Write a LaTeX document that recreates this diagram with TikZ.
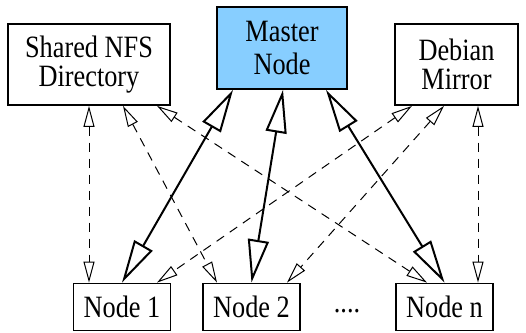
\documentclass[tikz,border=0pt]{standalone}
\usepackage{fontspec}
\usepackage{graphicx}
\setmainfont{Liberation Serif}
\usetikzlibrary{arrows.meta}

\definecolor{masterblue}{HTML}{87CEFF}
\newcommand{\tall}[1]{\scalebox{1}[1.18]{#1}}

\begin{document}
\begin{tikzpicture}[x=1pt,y=-1pt,
        every node/.style={draw,line width=1.8pt,inner sep=0pt,align=center,
            font=\fontsize{26.3}{29}\selectfont},
        topbox/.style={minimum height=81pt},
        nodebox/.style={minimum width=97pt,minimum height=47pt},
        link/.style={line width=2pt,
            {Triangle[open,length=43pt,width=21pt]}-{Triangle[open,length=43pt,width=21pt]}},
        dlink/.style={line width=1pt,dash pattern=on 9pt off 7pt,
            {Triangle[open,length=21pt,width=11pt]}-{Triangle[open,length=21pt,width=11pt]}}]
    \useasboundingbox (0,0) rectangle (526,332);
    % servers on top
    \node[topbox,minimum width=162pt] (nfs) at (89,64.5) {\tall{Shared NFS}\\\tall{Directory}};
    \node[fill=masterblue,minimum width=130pt,minimum height=82pt] (master) at (282,48) {\tall{Master}\\[4pt]\tall{Node}};
    \node[topbox,minimum width=123pt] (mirror) at (456.5,64.5) {\tall{Debian}\\\tall{Mirror}};
    % compute nodes
    \node[nodebox] (n1) at (122,307) {\tall{Node 1}};
    \node[nodebox] (n2) at (251.5,307) {\tall{Node 2}};
    \node[nodebox] (nn) at (444.5,307) {\tall{Node n}};
    \node[draw=none] (dots) at (347,311) {\tall{....}};
    % master links
    \draw[link] (n1.north) -- ([xshift=-49pt]master.south);
    \draw[link] (n2.north) -- ([xshift=1pt]master.south);
    \draw[link] (nn.north) -- ([xshift=44pt]master.south);
    % nfs links
    \draw[dlink] (nfs.south) -- ([xshift=-33pt]n1.north);
    \draw[dlink] ([xshift=34pt]nfs.south) -- ([xshift=-34.5pt]n2.north);
    \draw[dlink] ([xshift=68pt]nfs.south) -- ([xshift=-17.5pt]nn.north);
    % mirror links
    \draw[dlink] ([xshift=-44.5pt]mirror.south) -- ([xshift=35pt]n1.north);
    \draw[dlink] ([xshift=-12.5pt]mirror.south) -- ([xshift=35.5pt]n2.north);
    \draw[dlink] ([xshift=21.5pt]mirror.south) -- ([xshift=33.5pt]nn.north);
\end{tikzpicture}
\end{document}
